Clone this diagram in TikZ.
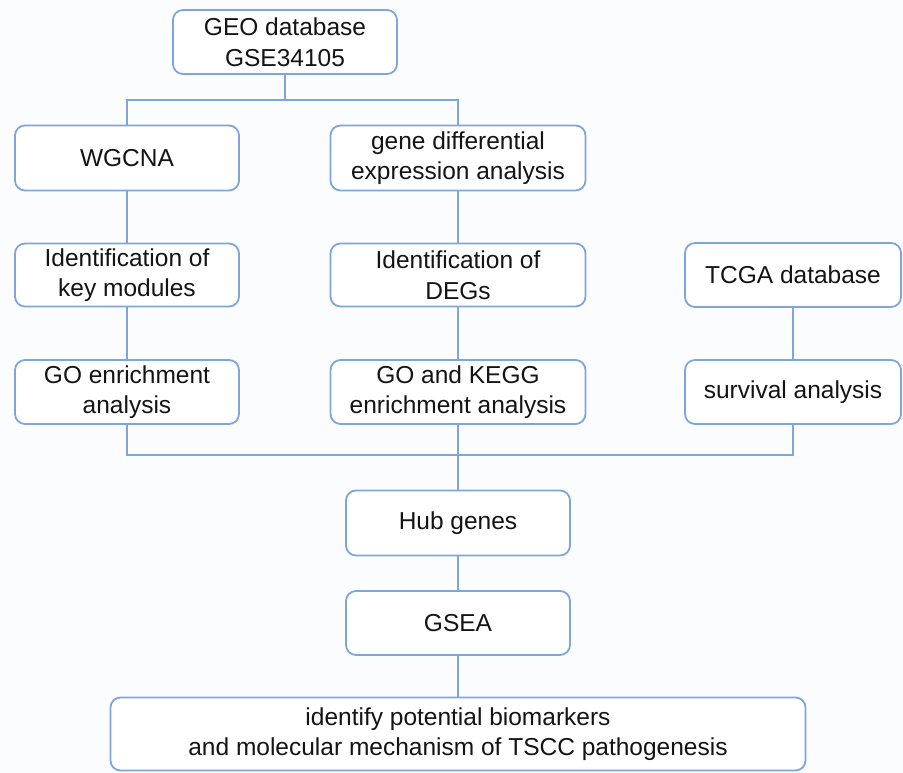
\documentclass[tikz,border=0pt]{standalone}
\usepackage{fontspec}
\setmainfont{Liberation Sans}
\definecolor{linec}{HTML}{7EA6DC}
\definecolor{txtc}{HTML}{141414}
\definecolor{bgc}{HTML}{FBFCFE}
\begin{document}
\begin{tikzpicture}[x=1pt,y=-1pt,
  box/.style={draw=linec,line width=1.8pt,rounded corners=10pt,fill=white,
    align=center,text=txtc,font=\fontsize{24.5}{30.5}\selectfont,inner sep=0pt},
  conn/.style={draw=linec,line width=1.8pt}]
\fill[bgc] (0,0) rectangle (903,773);
\useasboundingbox (0,0) rectangle (903,773);
\node[box,minimum width=224pt,minimum height=64pt] (geo) at (285,42) {GEO database\\GSE34105};
\node[box,minimum width=224pt,minimum height=65pt] (wgcna) at (127,158) {WGCNA};
\node[box,minimum width=255pt,minimum height=65pt] (gde) at (458,158) {gene differential\\expression analysis};
\node[box,minimum width=224pt,minimum height=63pt] (ikm) at (127,275) {Identification of\\key modules};
\node[box,minimum width=255pt,minimum height=63pt] (degs) at (458,275) {Identification of\\DEGs};
\node[box,minimum width=216pt,minimum height=64pt] (tcga) at (793,275) {TCGA database};
\node[box,minimum width=224pt,minimum height=64pt] (goe) at (127,392) {GO enrichment\\analysis};
\node[box,minimum width=255pt,minimum height=64pt] (gokegg) at (458,392) {GO and KEGG\\enrichment analysis};
\node[box,minimum width=216pt,minimum height=64pt] (surv) at (793,392) {survival analysis};
\node[box,minimum width=224pt,minimum height=65pt] (hub) at (458,523) {Hub genes};
\node[box,minimum width=224pt,minimum height=64pt] (gsea) at (458,623) {GSEA};
\node[box,minimum width=695pt,minimum height=73pt] (fin) at (458,734) {identify potential biomarkers\\and molecular mechanism of TSCC pathogenesis};
\coordinate (j0) at (285,100);
\coordinate (j1) at (458,455);
\draw[conn] (geo.south) -- (j0);
\draw[conn] (wgcna.north) |- (j0) -| (gde.north);
\draw[conn] (wgcna) -- (ikm);
\draw[conn] (ikm) -- (goe);
\draw[conn] (gde) -- (degs);
\draw[conn] (degs) -- (gokegg);
\draw[conn] (tcga) -- (surv);
\draw[conn] (goe.south) |- (j1) -| (surv.south);
\draw[conn] (gokegg.south) -- (hub.north);
\draw[conn] (hub) -- (gsea);
\draw[conn] (gsea) -- (fin);
\end{tikzpicture}
\end{document}
